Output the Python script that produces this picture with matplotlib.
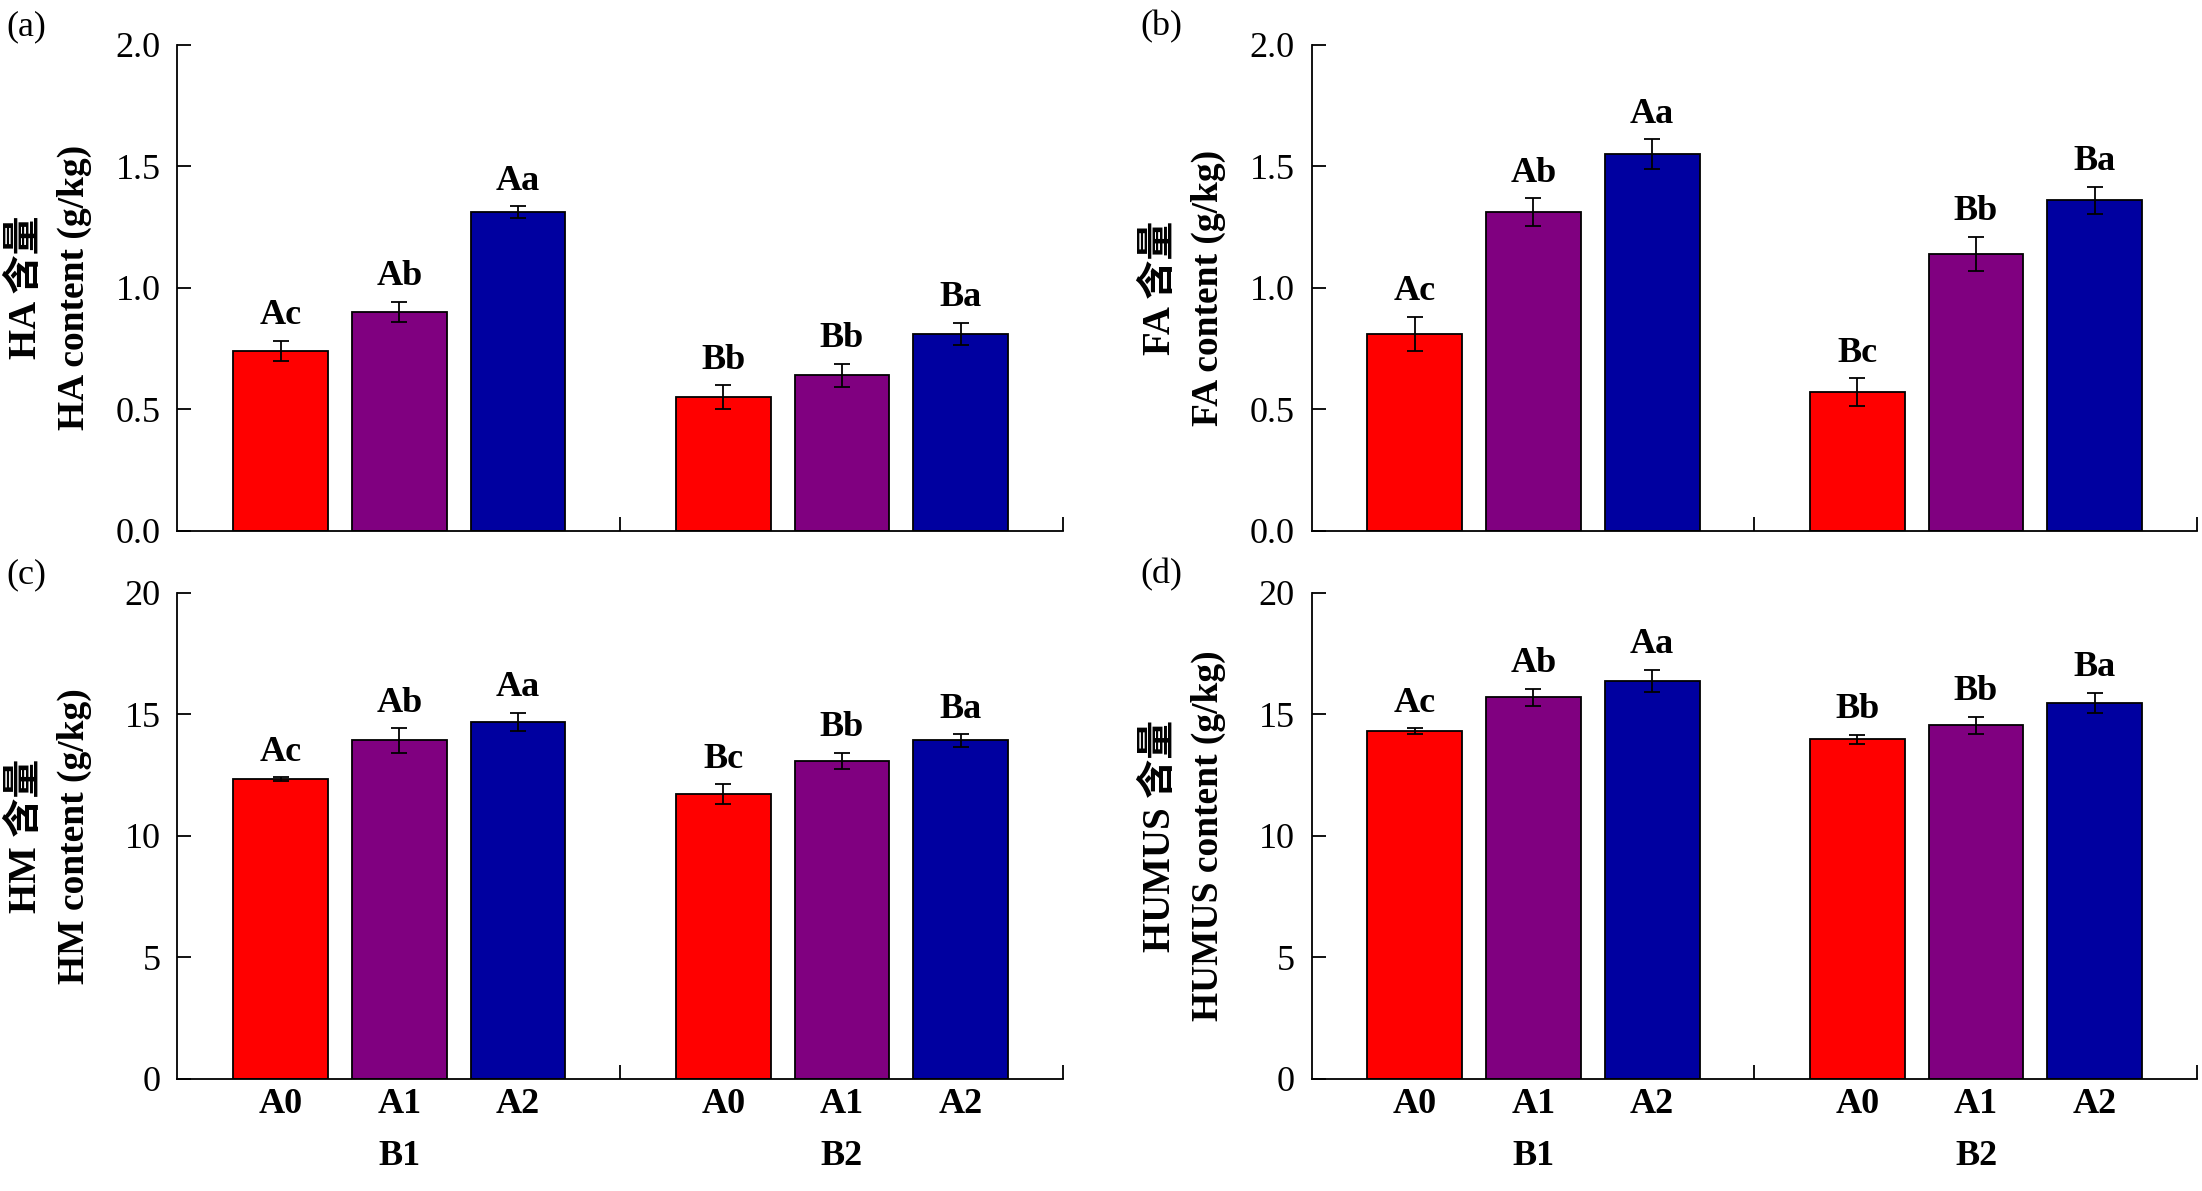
import numpy as np
from matplotlib import pyplot as plt
from matplotlib.ticker import FormatStrFormatter

plt.rcParams['font.family'] = ['Liberation Serif', 'Noto Sans CJK SC']

groups = ['B1', 'B2']
treatments = ['A0', 'A1', 'A2']
colors = ['#FF0000', '#800080', '#0000A0']

# HA
ha_mean = [[0.74, 0.90, 1.31], [0.55, 0.64, 0.81]]
ha_err = [[0.04, 0.042, 0.025], [0.048, 0.047, 0.045]]
ha_lab = [['Ac', 'Ab', 'Aa'], ['Bb', 'Bb', 'Ba']]
# FA
fa_mean = [[0.81, 1.31, 1.55], [0.57, 1.14, 1.36]]
fa_err = [[0.07, 0.058, 0.06], [0.056, 0.07, 0.055]]
fa_lab = [['Ac', 'Ab', 'Aa'], ['Bc', 'Bb', 'Ba']]
# HM
hm_mean = [[12.32, 13.92, 14.70], [11.72, 13.08, 13.92]]
hm_err = [[0.08, 0.5, 0.37], [0.4, 0.34, 0.25]]
hm_lab = [['Ac', 'Ab', 'Aa'], ['Bc', 'Bb', 'Ba']]
# HUMUS
humus_mean = [[14.30, 15.70, 16.37], [13.97, 14.55, 15.46]]
humus_err = [[0.12, 0.35, 0.46], [0.19, 0.35, 0.42]]
humus_lab = [['Ac', 'Ab', 'Aa'], ['Bb', 'Bb', 'Ba']]

panels = [
    ('(a)', 'HA', ha_mean, ha_err, ha_lab, 2.0, 0.5),
    ('(b)', 'FA', fa_mean, fa_err, fa_lab, 2.0, 0.5),
    ('(c)', 'HM', hm_mean, hm_err, hm_lab, 20, 5),
    ('(d)', 'HUMUS', humus_mean, humus_err, humus_lab, 20, 5),
]

fig = plt.figure(figsize=(22.02, 11.91), dpi=100)
lefts = [0.0806, 0.5956]
bottoms = [0.5545, 0.0943]
W, H = 0.402, 0.408

gstep = 3.73     # group width in bar units
first = 0.87     # first bar centre

for i, (tag, name, mean, err, lab, ymax, ystep) in enumerate(panels):
    row, col = divmod(i, 2)
    ax = fig.add_axes([lefts[col], bottoms[row], W, H])
    centers = []
    for g in range(2):
        x = first + g * gstep + np.arange(3)
        centers += list(x)
        ax.bar(x, mean[g], width=0.8, color=colors, edgecolor='black',
               linewidth=1.3, zorder=2)
        ax.errorbar(x, mean[g], yerr=err[g], fmt='none', ecolor='black',
                    elinewidth=1.3, capsize=5.5, capthick=1.3, zorder=3)
        for xi, m, e, t in zip(x, mean[g], err[g], lab[g]):
            ax.annotate(t, (xi, m + e), xytext=(0, 12), textcoords='offset points',
                        ha='center', va='baseline', fontsize=26, fontweight='bold')

    ax.set_xlim(0, 2 * gstep)
    ax.set_ylim(0, ymax)
    ax.set_yticks(np.arange(0, ymax + ystep / 2, ystep))
    if ymax == 2.0:
        ax.yaxis.set_major_formatter(FormatStrFormatter('%.1f'))
    ax.set_xticks([gstep, 2 * gstep])
    ax.set_xticklabels([])
    ax.spines['top'].set_visible(False)
    ax.spines['right'].set_visible(False)
    for s in ['left', 'bottom']:
        ax.spines[s].set_linewidth(1.3)
    ax.tick_params(axis='both', direction='in', length=10, width=1.3)
    ax.tick_params(axis='y', labelsize=26, pad=12)

    if row == 1:
        ax.set_xticks(centers, minor=True)
        ax.set_xticklabels(treatments * 2, minor=True, fontsize=26, fontweight='bold')
        ax.tick_params(axis='x', which='minor', length=0, pad=7)
        for g in range(2):
            ax.annotate(groups[g], (first + g * gstep + 1, 0), xycoords=('data', 'axes fraction'),
                        xytext=(0, -56), textcoords='offset points',
                        ha='center', va='center', fontsize=26, fontweight='bold')

    ax.text(-0.171, 0.5, name + ' 含量', transform=ax.transAxes, rotation=90,
            ha='center', va='center', fontsize=28, fontweight='bold')
    ax.text(-0.116, 0.5, name + ' content (g/kg)', transform=ax.transAxes, rotation=90,
            ha='center', va='center', fontsize=27, fontweight='bold')

    fig.text(lefts[col] - 0.0775, bottoms[row] + H + 0.029, tag,
             ha='left', va='top', fontsize=26)

plt.savefig('out.png', dpi=100)
